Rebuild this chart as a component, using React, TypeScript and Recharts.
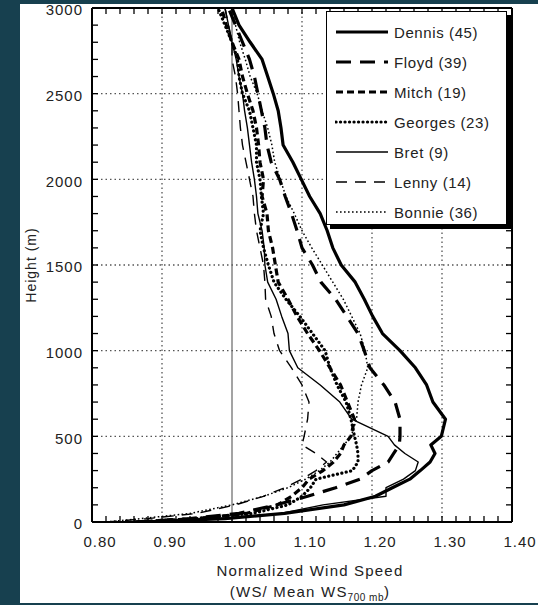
import { LineChart, Line, XAxis, YAxis, ReferenceLine } from "recharts";

// heights (m) shared by every profile
const heights = [0, 20, 50, 100, 150, 200, 250, 300, 350, 400, 450, 500, 600, 700, 800, 900, 1000, 1100, 1200, 1300, 1400, 1500, 1600, 1700, 1800, 1900, 2000, 2100, 2200, 2300, 2400, 2500, 2600, 2700, 2800, 2900, 3000];

const dennis = [0.87, 0.99, 1.075, 1.16, 1.205, 1.229, 1.254, 1.269, 1.283, 1.29, 1.284, 1.299, 1.305, 1.287, 1.278, 1.262, 1.24, 1.215, 1.201, 1.189, 1.176, 1.156, 1.144, 1.136, 1.126, 1.111, 1.099, 1.087, 1.073, 1.07, 1.066, 1.059, 1.051, 1.043, 1.026, 1.01, 1.0];
const floyd = [0.86, 0.94, 1.01, 1.063, 1.108, 1.148, 1.183, 1.2, 1.223, 1.231, 1.239, 1.24, 1.24, 1.233, 1.217, 1.197, 1.189, 1.18, 1.164, 1.148, 1.127, 1.115, 1.1, 1.093, 1.085, 1.076, 1.068, 1.056, 1.05, 1.047, 1.042, 1.037, 1.032, 1.025, 1.015, 1.005, 0.995];
const mitch = [0.86, 0.95, 1.02, 1.065, 1.085, 1.1, 1.11, 1.13, 1.145, 1.155, 1.16, 1.17, 1.175, 1.165, 1.155, 1.14, 1.125, 1.108, 1.093, 1.08, 1.066, 1.062, 1.058, 1.052, 1.05, 1.043, 1.045, 1.04, 1.038, 1.035, 1.03, 1.022, 1.015, 1.01, 1.0, 0.992, 0.985];
const georges = [0.86, 0.95, 1.03, 1.08, 1.1, 1.112, 1.12, 1.172, 1.18, 1.18, 1.178, 1.175, 1.17, 1.163, 1.15, 1.14, 1.133, 1.115, 1.097, 1.077, 1.06, 1.052, 1.045, 1.04, 1.045, 1.042, 1.04, 1.035, 1.035, 1.03, 1.025, 1.015, 1.01, 1.008, 1.0, 0.99, 0.98];
const bret = [0.88, 0.98, 1.07, 1.13, 1.22, 1.22, 1.245, 1.262, 1.266, 1.247, 1.232, 1.223, 1.171, 1.154, 1.126, 1.094, 1.082, 1.08, 1.071, 1.063, 1.051, 1.047, 1.046, 1.043, 1.037, 1.035, 1.032, 1.028, 1.025, 1.022, 1.018, 1.015, 1.01, 1.006, 1.0, 0.995, 0.99];
const lenny = [0.82, 0.88, 0.95, 1.005, 1.045, 1.075, 1.1, 1.12, 1.135, 1.12, 1.1, 1.103, 1.108, 1.11, 1.1, 1.085, 1.068, 1.06, 1.056, 1.048, 1.047, 1.045, 1.04, 1.035, 1.032, 1.03, 1.025, 1.02, 1.015, 1.012, 1.01, 1.008, 1.005, 1.0, 1.0, 0.995, 0.99];
const bonnie = [0.82, 0.87, 0.94, 1.0, 1.045, 1.08, 1.105, 1.125, 1.14, 1.15, 1.16, 1.17, 1.178, 1.18, 1.185, 1.194, 1.19, 1.183, 1.171, 1.159, 1.144, 1.129, 1.114, 1.1, 1.089, 1.077, 1.069, 1.061, 1.057, 1.051, 1.043, 1.036, 1.026, 1.019, 1.011, 1.005, 1.0];

const xLabels = [0.8, 0.9, 1.0, 1.1, 1.2, 1.3, 1.4];
const yLabels = [0, 500, 1000, 1500, 2000, 2500, 3000];
const xGrid = [0.9, 1.1, 1.2, 1.3];
const yGrid = [500, 1000, 1500, 2000, 2500];

const series = [
  { key: "dennis", name: "Dennis (45)", width: 3.2, dash: undefined, cap: "butt" },
  { key: "floyd", name: "Floyd (39)", width: 3.2, dash: "15 9", cap: "butt" },
  { key: "mitch", name: "Mitch (19)", width: 3.2, dash: "7 4", cap: "butt" },
  { key: "georges", name: "Georges (23)", width: 3.2, dash: "0.1 4.4", cap: "round" },
  { key: "bret", name: "Bret (9)", width: 1.4, dash: undefined, cap: "butt" },
  { key: "lenny", name: "Lenny (14)", width: 1.4, dash: "11 8", cap: "butt" },
  { key: "bonnie", name: "Bonnie (36)", width: 1.5, dash: "1.6 2.4", cap: "butt" },
];

const values: Record<string, number[]> = { dennis, floyd, mitch, georges, bret, lenny, bonnie };

const rows = heights.map((h, i) => {
  const r: Record<string, number> = { h };
  for (const s of series) r[s.key] = values[s.key][i];
  return r;
});

// minor tick positions (every 0.02 and every 100 m)
const xMinor: number[] = [];
for (let i = 0; i <= 30; i++) xMinor.push(Math.round((0.8 + i * 0.02) * 100) / 100);
const yMinor: number[] = [];
for (let i = 0; i <= 30; i++) yMinor.push(i * 100);

// inward tick length in data units (about 6 px)
const TICK_H = 35;
const TICK_X = 0.0086;

const FONT = '"Liberation Sans", Arial, Helvetica, sans-serif';

const XTick = (props: any) => {
  const { x, y, payload } = props;
  if (!xLabels.some((t) => Math.abs(t - payload.value) < 1e-6)) return <g />;
  return (
    <text x={x + 8} y={y + 14} dy="0.71em" textAnchor="middle" fontSize={15} letterSpacing={1} fill="#222" fontFamily={FONT}>
      {payload.value.toFixed(2)}
    </text>
  );
};

const YTick = (props: any) => {
  const { x, y, payload } = props;
  if (!yLabels.includes(payload.value)) return <g />;
  return (
    <text x={x - 9} y={y + 2} dy="0.355em" textAnchor="end" fontSize={15} letterSpacing={1} fill="#222" fontFamily={FONT}>
      {payload.value}
    </text>
  );
};

const axisLine = { stroke: "#000", strokeWidth: 2 };
const tickStyle = { stroke: "#000", strokeWidth: 1.3 };

function LegendBox() {
  return (
    <div
      style={{
        position: "absolute",
        left: 326,
        top: 11,
        width: 179,
        height: 212,
        border: "1.5px solid #000",
        boxShadow: "4px 4px 0 #000",
        background: "#fff",
        fontFamily: FONT,
      }}
    >
      {series.map((s, i) => (
        <div key={s.key} style={{ position: "absolute", left: 8, top: 9 + i * 30, height: 22, display: "flex", alignItems: "center" }}>
          <svg width={54} height={10}>
            <line x1={1} y1={5} x2={53} y2={5} stroke="#000" strokeWidth={s.width} strokeDasharray={s.dash} strokeLinecap={s.cap as any} />
          </svg>
          <span style={{ marginLeft: 5, fontSize: 15, letterSpacing: 0.6, color: "#222" }}>{s.name}</span>
        </div>
      ))}
    </div>
  );
}

export default function App() {
  return (
    <div style={{ position: "fixed", inset: 0, background: "#17404f", overflow: "hidden" }}>
      <div style={{ position: "absolute", left: 20, top: 4, width: 518, height: 599, background: "#fff" }} />
      <div style={{ position: "absolute", left: 0, top: 0 }}>
        <LineChart width={538} height={605} layout="vertical" data={rows} margin={{ top: 7, right: 25, bottom: 53, left: 32 }}>
          <XAxis xAxisId="b" type="number" orientation="bottom" domain={[0.8, 1.4]} ticks={xMinor} interval={0} height={30}
            allowDataOverflow axisLine={axisLine} tickLine={false} tickSize={0} tickMargin={0} tick={<XTick />} />
          <XAxis xAxisId="t" type="number" orientation="top" domain={[0.8, 1.4]} height={1}
            allowDataOverflow axisLine={axisLine} tickLine={false} tick={false} />
          <YAxis yAxisId="l" type="number" dataKey="h" orientation="left" domain={[0, 3000]} ticks={yMinor} interval={0} width={60}
            reversed allowDataOverflow axisLine={axisLine} tickLine={false} tickSize={0} tickMargin={0} tick={<YTick />} />
          <YAxis yAxisId="r" type="number" dataKey="h" orientation="right" domain={[0, 3000]} width={1}
            reversed allowDataOverflow axisLine={axisLine} tickLine={false} tick={false} />
          {xGrid.map((v) => (
            <ReferenceLine key={"gx" + v} xAxisId="b" yAxisId="l" x={v} stroke="#555" strokeWidth={1.3} strokeDasharray="1.5 3" />
          ))}
          {yGrid.map((v) => (
            <ReferenceLine key={"gy" + v} xAxisId="b" yAxisId="l" y={v} stroke="#555" strokeWidth={1.3} strokeDasharray="1.5 3" />
          ))}
          <ReferenceLine xAxisId="b" yAxisId="l" x={1.0} stroke="#666" strokeWidth={1.2} />
          {xMinor.map((v) => (
            <ReferenceLine key={"tb" + v} xAxisId="b" yAxisId="l" segment={[{ x: v, y: 0 }, { x: v, y: TICK_H }]} {...tickStyle} />
          ))}
          {xMinor.map((v) => (
            <ReferenceLine key={"tt" + v} xAxisId="b" yAxisId="l" segment={[{ x: v, y: 3000 - TICK_H }, { x: v, y: 3000 }]} {...tickStyle} />
          ))}
          {yMinor.map((v) => (
            <ReferenceLine key={"tl" + v} xAxisId="b" yAxisId="l" segment={[{ x: 0.8, y: v }, { x: 0.8 + TICK_X, y: v }]} {...tickStyle} />
          ))}
          {yMinor.map((v) => (
            <ReferenceLine key={"tr" + v} xAxisId="b" yAxisId="l" segment={[{ x: 1.4 - TICK_X, y: v }, { x: 1.4, y: v }]} {...tickStyle} />
          ))}
          {series.map((s) => (
            <Line key={s.key} xAxisId="b" yAxisId="l" dataKey={s.key} type="linear" dot={false} activeDot={false}
              stroke="#000" strokeWidth={s.width} strokeDasharray={s.dash} strokeLinecap={s.cap as any}
              strokeLinejoin="round" isAnimationActive={false} />
          ))}
        </LineChart>
      </div>
      <LegendBox />
      <div style={{ position: "absolute", left: 10, top: 265, width: 0, height: 0 }}>
        <div style={{ position: "absolute", transform: "translate(-50%, -50%) rotate(-90deg)", left: 21, top: 0, whiteSpace: "nowrap", fontFamily: FONT, fontSize: 14, letterSpacing: 1, color: "#222" }}>
          Height (m)
        </div>
      </div>
      <div style={{ position: "absolute", left: 140, width: 340, top: 560, textAlign: "center", fontFamily: FONT, fontSize: 15, letterSpacing: 1.2, color: "#222", lineHeight: "21px" }}>
        <div>Normalized Wind Speed</div>
        <div>
          (WS/ Mean WS<sub style={{ fontSize: 10, letterSpacing: 0.5 }}>700 mb</sub>)
        </div>
      </div>
    </div>
  );
}
